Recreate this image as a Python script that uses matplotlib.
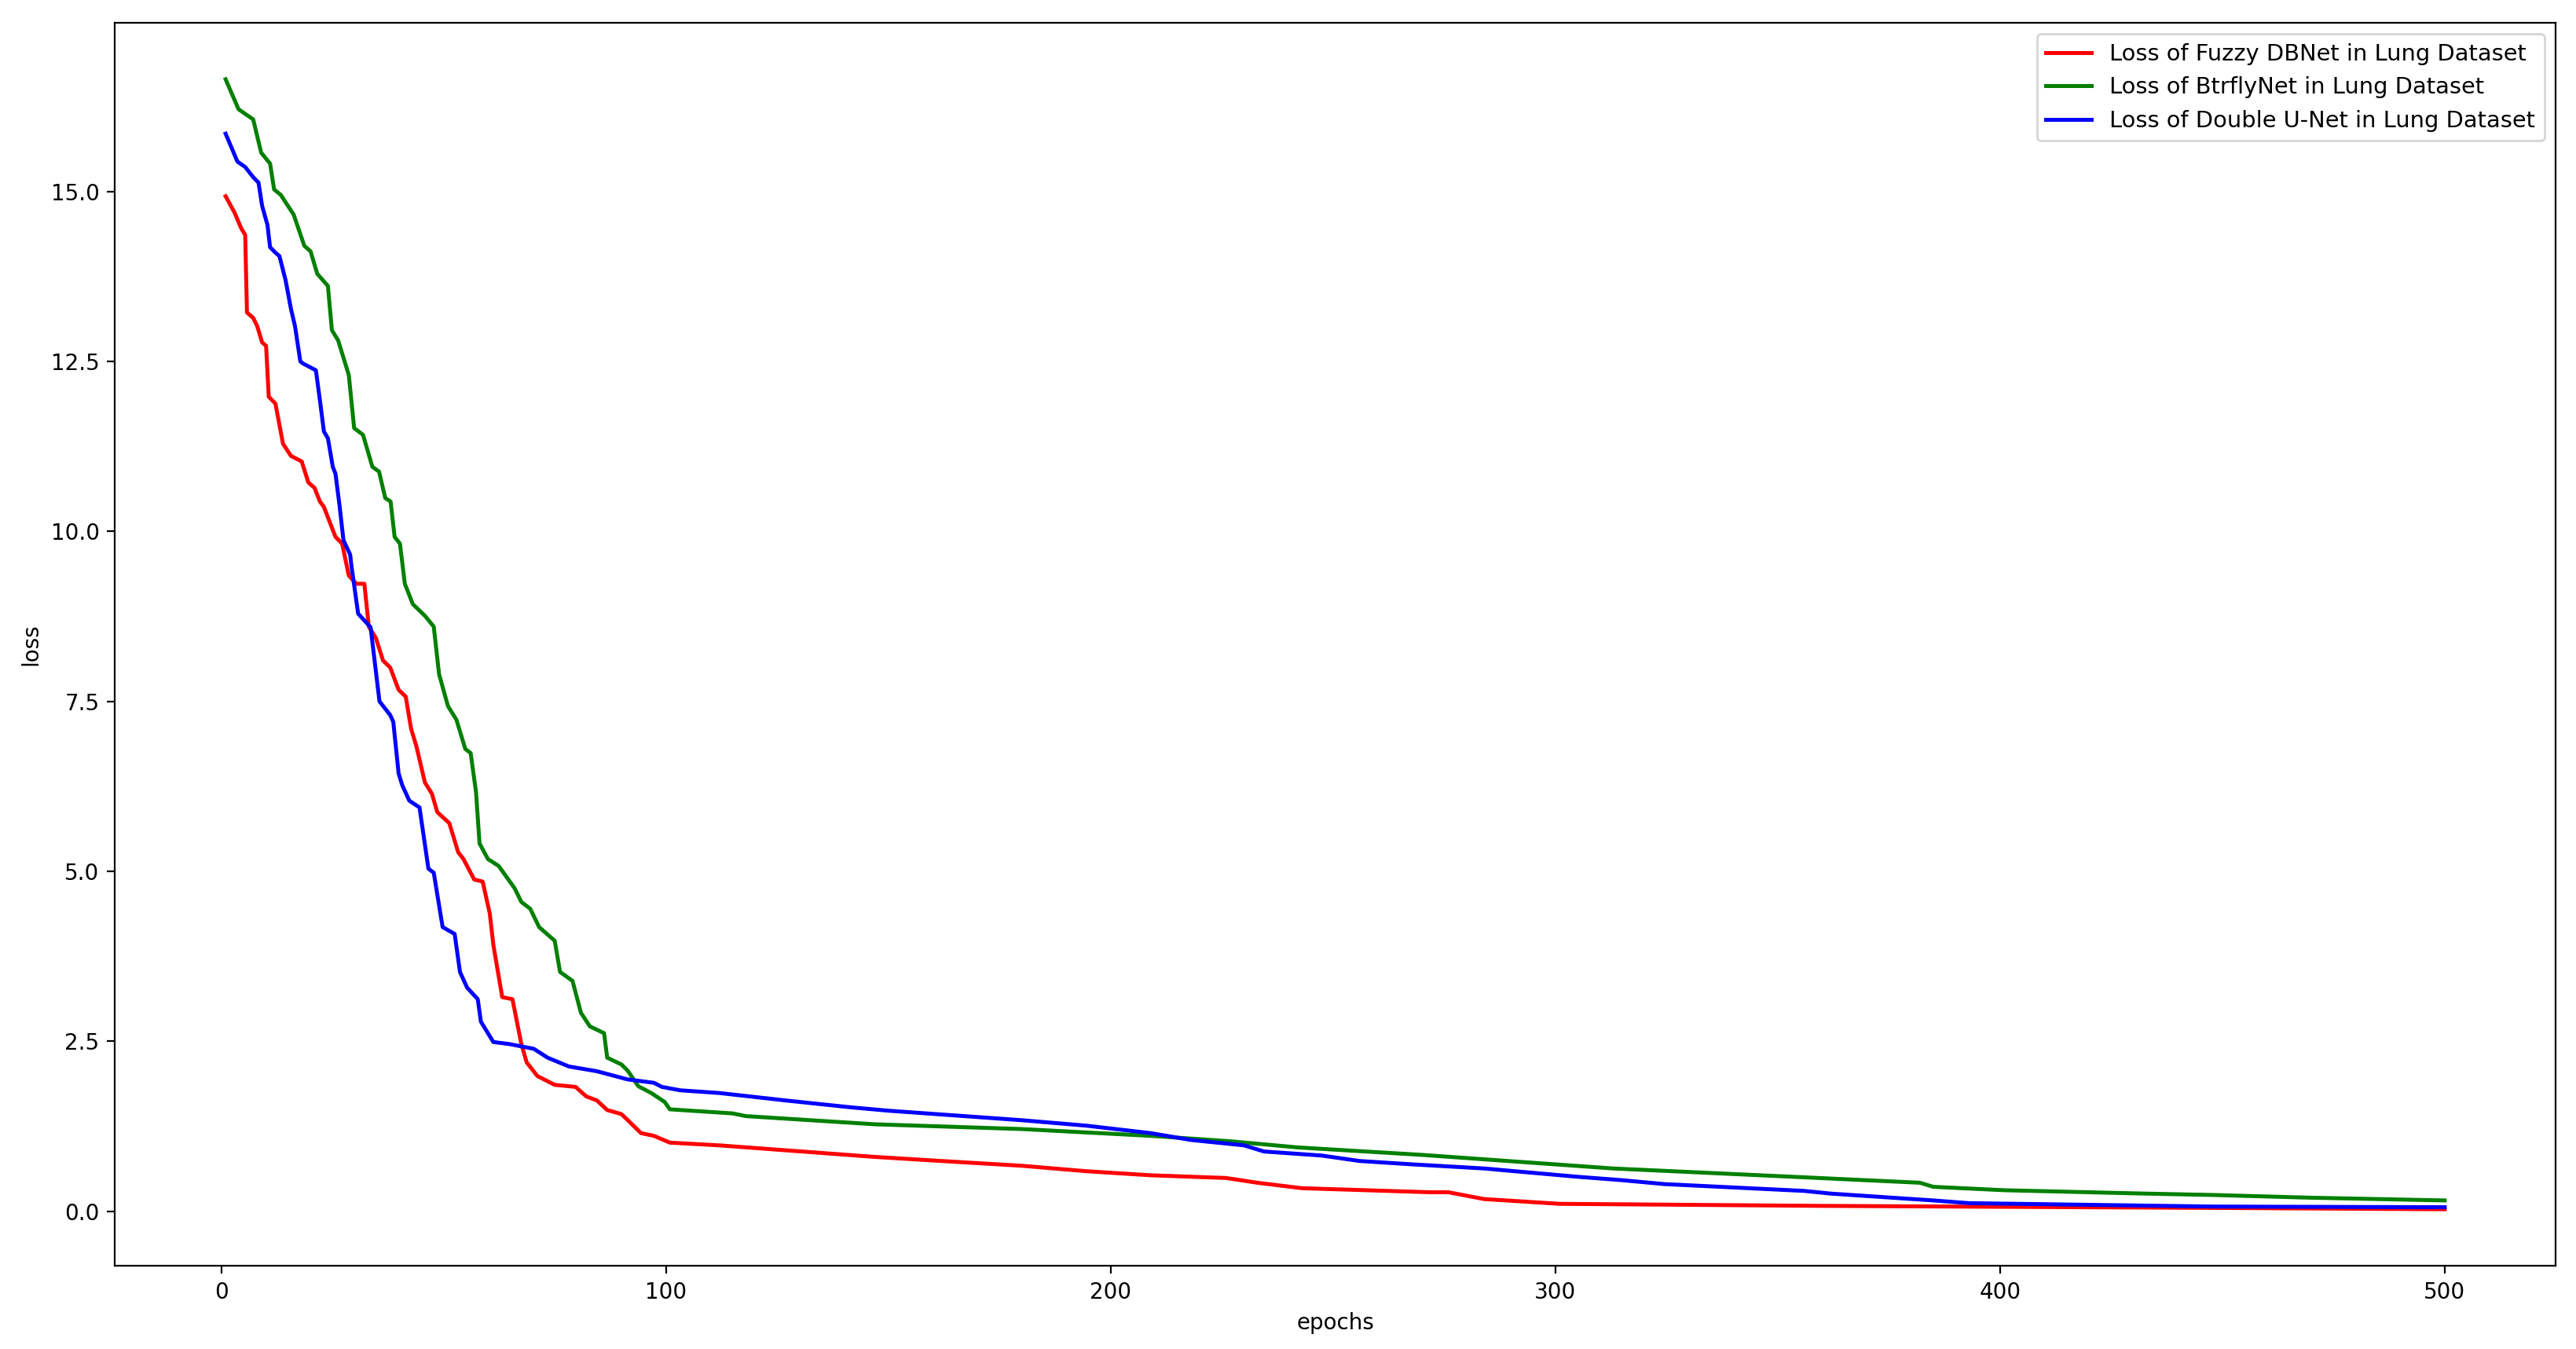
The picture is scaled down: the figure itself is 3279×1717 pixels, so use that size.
import matplotlib
matplotlib.use("Agg")
import matplotlib.pyplot as plt

# Loss of Fuzzy DBNet (red)
fuzzy_epochs = [1, 3, 4.5, 5.4, 5.8, 7.2, 8.1, 9.2, 10.1, 10.7, 12.2, 13.9, 15.7, 18.1, 19.6, 21, 22.2, 23.1,
                25.7, 27.2, 28.7, 30.4, 32.2, 33.2, 34.8, 36.4, 38, 39.9, 41.5, 42.7, 43.9, 45.8, 47.4, 48.6,
                51.3, 53.3, 54.5, 56.9, 58.8, 60.4, 61.2, 63.2, 65.5, 67.5, 68.7, 71.1, 75, 79.7, 82.1, 84.5,
                86.8, 90, 91.6, 94.4, 97.3, 100.9, 112, 147, 162, 180, 194.5, 209, 226, 233, 243, 272, 276,
                284, 301, 360, 448, 500]
fuzzy_loss = [14.93, 14.69, 14.46, 14.36, 13.22, 13.14, 13.02, 12.78, 12.73, 11.98, 11.88, 11.29, 11.11, 11.03,
              10.72, 10.64, 10.44, 10.36, 9.92, 9.82, 9.35, 9.23, 9.23, 8.6, 8.43, 8.1, 8.0, 7.67, 7.57, 7.1,
              6.84, 6.31, 6.14, 5.87, 5.71, 5.28, 5.18, 4.88, 4.85, 4.38, 3.92, 3.15, 3.12, 2.46, 2.19, 1.99,
              1.86, 1.83, 1.69, 1.63, 1.49, 1.43, 1.33, 1.15, 1.11, 1.01, 0.97, 0.80, 0.74, 0.67, 0.59, 0.53,
              0.49, 0.42, 0.34, 0.28, 0.28, 0.18, 0.11, 0.08, 0.05, 0.03]

# Loss of BtrflyNet (green)
btrfly_epochs = [1, 3.9, 7.2, 9, 11, 11.9, 13.4, 16.3, 18.7, 20.1, 21.6, 24, 24.9, 26.3, 28.7, 29.9, 31.9, 34,
                 35.5, 36.9, 38.1, 39, 40.2, 41.3, 43.1, 45.8, 47.8, 49, 51, 52.9, 54.9, 56.1, 57.3, 58.1, 60,
                 62.4, 66, 67.5, 69.5, 71.5, 75, 76.2, 79, 80.9, 82.9, 86.1, 86.8, 90, 91.4, 93.8, 96.7, 99.7,
                 100.9, 115, 118, 147, 180, 209, 227, 242, 270, 313, 356, 382, 385, 401, 433, 448, 470, 500]
btrfly_loss = [16.65, 16.21, 16.06, 15.57, 15.41, 15.03, 14.95, 14.66, 14.2, 14.12, 13.79, 13.61, 12.96, 12.81,
               12.3, 11.52, 11.42, 10.95, 10.88, 10.49, 10.44, 9.92, 9.82, 9.23, 8.93, 8.76, 8.6, 7.9, 7.43,
               7.23, 6.8, 6.74, 6.17, 5.41, 5.18, 5.08, 4.75, 4.55, 4.45, 4.18, 3.98, 3.52, 3.39, 2.92, 2.72,
               2.62, 2.26, 2.16, 2.07, 1.84, 1.74, 1.61, 1.50, 1.44, 1.40, 1.28, 1.21, 1.11, 1.03, 0.94, 0.83,
               0.63, 0.50, 0.42, 0.36, 0.31, 0.26, 0.24, 0.20, 0.16]

# Loss of Double U-Net (blue)
double_epochs = [1, 3.65, 5.4, 7.2, 8.4, 9.2, 10.4, 11, 12.2, 13.1, 14.5, 15.7, 16.6, 17.8, 18.4, 21.3, 22.2,
                 23.1, 24, 25.1, 25.7, 26.6, 27.5, 29, 29.3, 30.8, 33.6, 35.6, 38, 38.7, 39.9, 40.7, 42.3,
                 44.6, 46.6, 47.8, 49.8, 52.5, 53.7, 55.3, 57.7, 58.4, 61.2, 64.8, 70.3, 73.4, 78.2, 84.5, 91.4,
                 97.3, 99.1, 103.2, 112, 127, 141.5, 150, 180, 194.5, 209, 218, 230, 234.5, 247.5, 256, 268,
                 284, 304.6, 314.6, 324.6, 356, 362, 385, 393, 448, 500]
double_loss = [15.85, 15.44, 15.36, 15.21, 15.13, 14.79, 14.51, 14.18, 14.1, 14.05, 13.69, 13.27, 13.02, 12.5,
               12.47, 12.37, 11.93, 11.47, 11.37, 10.95, 10.85, 10.39, 9.87, 9.66, 9.49, 8.79, 8.59, 7.5, 7.3,
               7.2, 6.44, 6.27, 6.04, 5.94, 5.04, 4.98, 4.18, 4.08, 3.52, 3.29, 3.12, 2.79, 2.49, 2.46, 2.39,
               2.26, 2.13, 2.06, 1.94, 1.89, 1.83, 1.78, 1.74, 1.63, 1.53, 1.48, 1.34, 1.26, 1.15, 1.05, 0.97,
               0.88, 0.82, 0.74, 0.69, 0.63, 0.51, 0.46, 0.40, 0.30, 0.26, 0.16, 0.12, 0.07, 0.06]

labels = ["Loss of Fuzzy DBNet in Lung Dataset",
          "Loss of BtrflyNet in Lung Dataset",
          "Loss of Double U-Net in Lung Dataset"]

fig = plt.figure(figsize=(16.4, 8.585), dpi=200)
ax = fig.add_axes([0.0445, 0.0617, 0.9473, 0.9214])

ax.plot(fuzzy_epochs, fuzzy_loss, color="red", linewidth=1.8, label=labels[0])
ax.plot(btrfly_epochs, btrfly_loss, color="green", linewidth=1.8, label=labels[1])
ax.plot(double_epochs, double_loss, color="blue", linewidth=1.8, label=labels[2])

ax.set_xlabel("epochs")
ax.set_ylabel("loss")
ax.legend(loc="upper right", fontsize=10.4)

fig.savefig("out.png", dpi=200)
